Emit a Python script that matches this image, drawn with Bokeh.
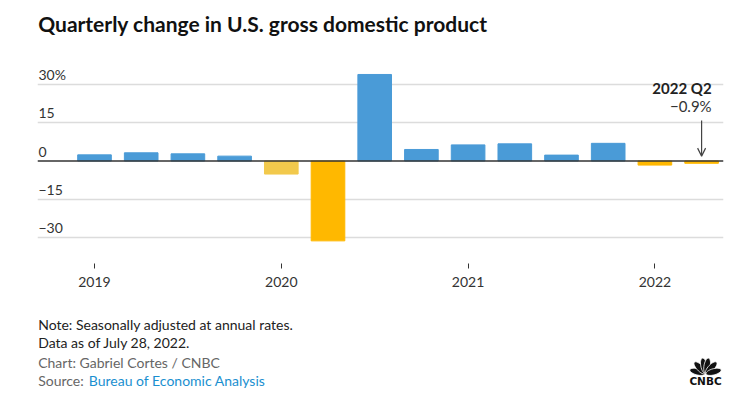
import numpy as np
from bokeh.plotting import figure
from bokeh.layouts import column
from bokeh.models import (Range1d, FixedTicker, Label, Arrow, OpenHead, Span,
                          ColumnDataSource, Grid)
from bokeh.embed import file_html
from bokeh.resources import INLINE
from bokeh.core.properties import value

# ---------------- data ----------------
quarters = ["2019 Q1", "2019 Q2", "2019 Q3", "2019 Q4",
            "2020 Q1", "2020 Q2", "2020 Q3", "2020 Q4",
            "2021 Q1", "2021 Q2", "2021 Q3", "2021 Q4",
            "2022 Q1", "2022 Q2"]
gdp_change = [2.4, 3.2, 2.8, 1.9, -5.1, -31.2, 33.8, 4.5,
              6.3, 6.7, 2.3, 6.9, -1.6, -0.9]
y_ticks = [-30, -15, 0, 15, 30]
y_tick_labels = ["\u221230", "\u221215", "0", "15", "30%"]
year_ticks = [0, 4, 8, 12]
year_labels = ["2019", "2020", "2021", "2022"]
highlight_label = "2022 Q2"
highlight_value_text = "\u22120.9%"
title_text = "Quarterly change in U.S. gross domestic product"
note_lines = ["Note: Seasonally adjusted at annual rates.", "Data as of July 28, 2022."]
credit_line = "Chart: Gabriel Cortes / CNBC"
source_prefix = "Source: "
source_name = "Bureau of Economic Analysis"

# ---------------- style ----------------
BLUE = "#4a9bd7"
YELLOW = "#ffb800"
LIGHT_YELLOW = "#f2c94c"
FONT = "Lato"
W = 730
H_MAIN, H_FOOT = 300, 96
LEFT, RIGHT = 37, 7

idx = list(range(len(quarters)))
colors = []
for i, v in enumerate(gdp_change):
    if v >= 0:
        colors.append(BLUE)
    elif quarters[i] == "2020 Q1":
        colors.append(LIGHT_YELLOW)
    else:
        colors.append(YELLOW)

src = ColumnDataSource(dict(x=idx, top=gdp_change, color=colors, q=quarters))

x0, x1 = -1.2206, 13.469
p = figure(width=W, height=H_MAIN, x_range=Range1d(x0, x1), y_range=Range1d(-40.04, 62.70),
           output_backend="svg", toolbar_location=None, y_axis_location=None,
           min_border_left=LEFT, min_border_right=RIGHT, min_border_top=0, min_border_bottom=37)
p.outline_line_color = None
for g in p.grid:
    g.visible = False

grid = Grid(dimension=1, ticker=FixedTicker(ticks=[t for t in y_ticks if t != 0]),
            grid_line_color="#dcdcdc", grid_line_width=1.5)
p.add_layout(grid)

p.vbar(x="x", top="top", bottom=0, width=0.72, color="color", source=src)
p.add_layout(Span(location=0, dimension="width", line_color="#333333", line_width=1.5))

# y tick labels above the grid lines
ysrc = ColumnDataSource(dict(x=[x0] * len(y_ticks), y=y_ticks, t=y_tick_labels))
p.text(x="x", y="y", text="t", source=ysrc, x_offset=1, y_offset=-9.5,
       text_align="left", text_baseline="middle", text_font=value(FONT),
       text_font_size="14px", text_color="#333333")

ax = p.xaxis[0]
ax.ticker = FixedTicker(ticks=year_ticks)
ax.major_label_overrides = {t: l for t, l in zip(year_ticks, year_labels)}
ax.axis_line_color = None
ax.major_tick_in = 0
ax.major_tick_out = 5
ax.minor_tick_line_color = None
ax.major_tick_line_color = "#333333"
ax.major_label_standoff = 8
ax.major_label_text_font = FONT
ax.major_label_text_font_size = "14px"
ax.major_label_text_color = "#333333"

# annotation for last quarter
last = len(quarters) - 1
p.add_layout(Label(x=last, y=28.6, x_offset=10, text=highlight_label, text_align="right",
                   text_baseline="middle", text_font=FONT, text_font_style="bold",
                   text_font_size="15px", text_color="#222222"))
p.add_layout(Label(x=last, y=21.3, x_offset=10, text=highlight_value_text, text_align="right",
                   text_baseline="middle", text_font=FONT,
                   text_font_size="15px", text_color="#333333"))
p.add_layout(Arrow(x_start=last, y_start=15.8, x_end=last, y_end=1.9,
                   line_color="#444444", line_width=1.2,
                   end=OpenHead(size=8, line_color="#444444", line_width=1.2)))

# title (inside the frame, screen units relative to the frame)
p.add_layout(Label(x=0.7, y=263 - 23.3, x_units="screen", y_units="screen", text=title_text,
                   text_align="left", text_baseline="middle", text_font=FONT,
                   text_font_style="bold", text_font_size="21px", text_color="#111111"))

# ---------------- footer ----------------
f = figure(width=W, height=H_FOOT, x_range=Range1d(LEFT, W - RIGHT), y_range=Range1d(396, 300),
           output_backend="svg", toolbar_location=None, x_axis_location=None,
           y_axis_location=None, min_border_left=LEFT, min_border_right=RIGHT,
           min_border_top=0, min_border_bottom=0)
f.outline_line_color = None
for g in f.grid:
    g.visible = False

def ftext(text, x, y, color, size="14px", style="normal", font=FONT, align="left"):
    f.text(x=[x], y=[y], text=[text], text_align=align, text_baseline="middle",
           text_font=value(font), text_font_size=size, text_color=color,
           text_font_style=style)

ftext(note_lines[0], 37.7, 324, "#222222")
ftext(note_lines[1], 37.7, 342, "#222222")
ftext(credit_line, 37.7, 362, "#666666")
ftext(source_prefix, 37.7, 380, "#666666")
ftext(source_name, 88.3, 380, "#1a8fd0")

# CNBC logo (peacock feathers + wordmark)
bx, by = 705, 373.5
t = np.linspace(0, 2 * np.pi, 30)
fx, fy = [], []
for ang in np.deg2rad([165, 133, 101, 79, 47, 15]):
    a, b, d = 7.8, 3.1, 8.4
    ex = d + a * np.cos(t)
    ey = b * np.sin(t)
    fx.append(list(bx + ex * np.cos(ang) - ey * np.sin(ang)))
    fy.append(list(by - (ex * np.sin(ang) + ey * np.cos(ang))))
f.patches(xs=fx, ys=fy, fill_color="#111111", line_color="white", line_width=0.8)
ftext("CNBC", bx, 380, "#111111", size="10.5px", style="bold", font="DejaVu Sans",
      align="center")

layout = column(p, f, spacing=0)
open("out.html", "w").write(file_html(layout, INLINE))
